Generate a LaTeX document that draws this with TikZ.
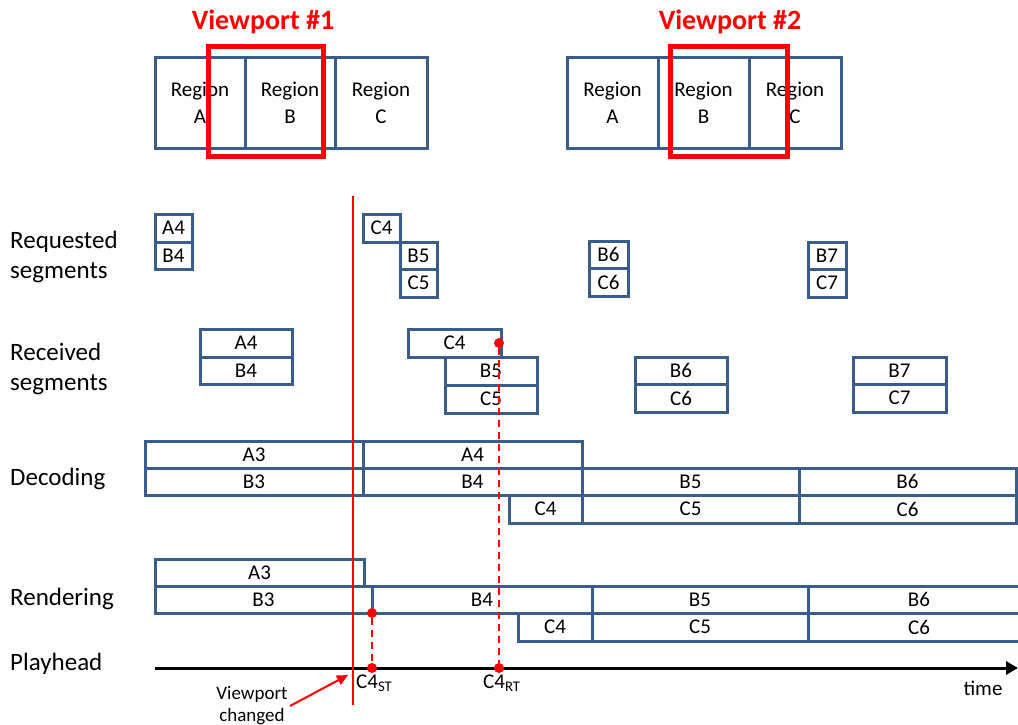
\documentclass[tikz,border=0pt]{standalone}
\usepackage{fontspec}
\setmainfont{Carlito}
\usetikzlibrary{arrows.meta}
\definecolor{segblue}{RGB}{56,93,138}
\newcommand\segbx[7][seg]{\node[#1, minimum width={(#5)-(#3)}, minimum height={(#6)-(#4)}] (#2) at ({((#3)+(#5))/2},{((#4)+(#6))/2}) {#7};}
\begin{document}
\begin{tikzpicture}[x=1pt,y=-1pt,
 seg/.style={draw=segblue, line width=3pt, inner sep=0pt, outer sep=0pt, font=\fontsize{21}{24}\selectfont},
 region/.style={seg, align=center, font=\fontsize{21}{27}\selectfont},
 vport/.style={draw=red, line width=5pt, inner sep=0pt, outer sep=0pt},
 vtitle/.style={text=red, inner sep=0pt, font=\bfseries\fontsize{28}{30}\selectfont},
 rowlabel/.style={anchor=west, align=left, inner sep=0pt, font=\fontsize{25}{30}\selectfont},
 reddot/.style={circle, fill=red, inner sep=0pt, minimum size=10pt},
 reddash/.style={red, line width=2pt, dash pattern=on 7pt off 5pt},
 redline/.style={red, line width=2pt},
 small/.style={inner sep=0pt, font=\fontsize{21}{24}\selectfont},
]
\useasboundingbox (0,0) rectangle (1018,724);
\clip (0,0) rectangle (1018,724);

% Regions set 1
\segbx[region]{r1a}{155}{57}{245}{148}{Region\\A}
\segbx[region]{r1b}{245}{57}{335}{148}{Region\\B}
\segbx[region]{r1c}{335}{57}{427}{148}{Region\\C}
\node[vport, minimum width=115, minimum height=110] (vp1) at (265.5,101) {};
\node[vtitle] (vt1) at (263,22) {Viewport \#1};
% Regions set 2
\segbx[region]{r2a}{567}{57}{658}{148}{Region\\A}
\segbx[region]{r2b}{658}{57}{749}{148}{Region\\B}
\segbx[region]{r2c}{749}{57}{841}{148}{Region\\C}
\node[vport, minimum width=117, minimum height=110] (vp2) at (728.5,101) {};
\node[vtitle] (vt2) at (730,22) {Viewport \#2};

% Row labels
\node[rowlabel] (lreq) at (10,257) {Requested\\segments};
\node[rowlabel] (lrec) at (10,369) {Received\\segments};
\node[rowlabel] (ldec) at (10,479) {Decoding};
\node[rowlabel] (lren) at (10,599) {Rendering};
\node[rowlabel] (lply) at (10,664) {Playhead};

% Requested segments
\segbx{qA4}{155}{214}{192}{242}{A4}
\segbx{qB4}{155}{242}{192}{269}{B4}
\segbx{qC4}{363}{214}{400}{242}{C4}
\segbx{qB5}{400}{242}{437}{269}{B5}
\segbx{qC5}{400}{269}{437}{297}{C5}
\segbx{qB6}{589}{241}{628}{268}{B6}
\segbx{qC6}{589}{268}{628}{296}{C6}
\segbx{qB7}{808}{242}{846}{269}{B7}
\segbx{qC7}{808}{269}{846}{297}{C7}

% Received segments
\segbx{vA4}{200}{329}{292}{357}{A4}
\segbx{vB4}{200}{357}{292}{384}{B4}
\segbx{vC4}{408}{329}{501}{357}{C4}
\segbx{vB5}{445}{357}{537}{385}{B5}
\segbx{vC5}{445}{385}{537}{413}{C5}
\segbx{vB6}{635}{357}{727}{384}{B6}
\segbx{vC6}{635}{384}{727}{412}{C6}
\segbx{vB7}{853}{357}{946}{384}{B7}
\segbx{vC7}{853}{384}{946}{412}{C7}

% Decoding
\segbx{dA3}{145}{441}{363}{468}{A3}
\segbx{dB3}{145}{468}{363}{495}{B3}
\segbx{dA4}{363}{441}{582}{468}{A4}
\segbx{dB4}{363}{468}{582}{495}{B4}
\segbx{dB5}{582}{468}{799}{495}{B5}
\segbx{dB6}{799}{468}{1016}{495}{B6}
\segbx{dC4}{509}{495}{582}{523}{C4}
\segbx{dC5}{582}{495}{799}{523}{C5}
\segbx{dC6}{799}{495}{1016}{523}{C6}

% Rendering
\segbx{nA3}{155}{559}{364}{586}{A3}
\segbx{nB3}{155}{586}{372}{613}{B3}
\segbx{nB4}{372}{586}{592}{613}{B4}
\segbx{nB5}{592}{586}{808}{613}{B5}
\segbx{nB6}{808}{586}{1030}{613}{B6}
\segbx{nC4}{518}{613}{592}{641}{C4}
\segbx{nC5}{592}{613}{808}{641}{C5}
\segbx{nC6}{808}{613}{1030}{641}{C6}

% Playhead
\coordinate (ph0) at (155,668);
\coordinate (ph1) at (1018,668);
\draw[line width=3pt, -{Triangle[length=12pt,width=13pt]}] (ph0) -- (ph1);
\node[small, anchor=base] (tm) at (983,695) {time};

% Viewport change line
\coordinate (vlt) at (353,196);
\coordinate (vlb) at (353,705);
\draw[redline] (vlt) -- (vlb);

% Dots and dashed lines
\node[reddot] (st1) at (372,613) {};
\node[reddot] (st2) at (372,668) {};
\node[reddot] (rt1) at (499,343) {};
\node[reddot] (rt2) at (499,668) {};
\draw[reddash] (st1) -- (st2);
\draw[reddash] (rt1) -- (rt2);

\node[small, anchor=base west] (cst) at (356,688) {C4\textsubscript{ST}};
\node[small, anchor=base west] (crt) at (483,688) {C4\textsubscript{RT}};

% Viewport changed annotation
\node[inner sep=0pt, align=center, font=\fontsize{19}{22}\selectfont, anchor=base] (vc) at (252,721) {Viewport\\changed};
\coordinate (vca) at (290,706);
\coordinate (vcb) at (348,675);
\draw[redline, -{Triangle[length=11pt,width=10pt]}] (vca) -- (vcb);
\end{tikzpicture}
\end{document}
